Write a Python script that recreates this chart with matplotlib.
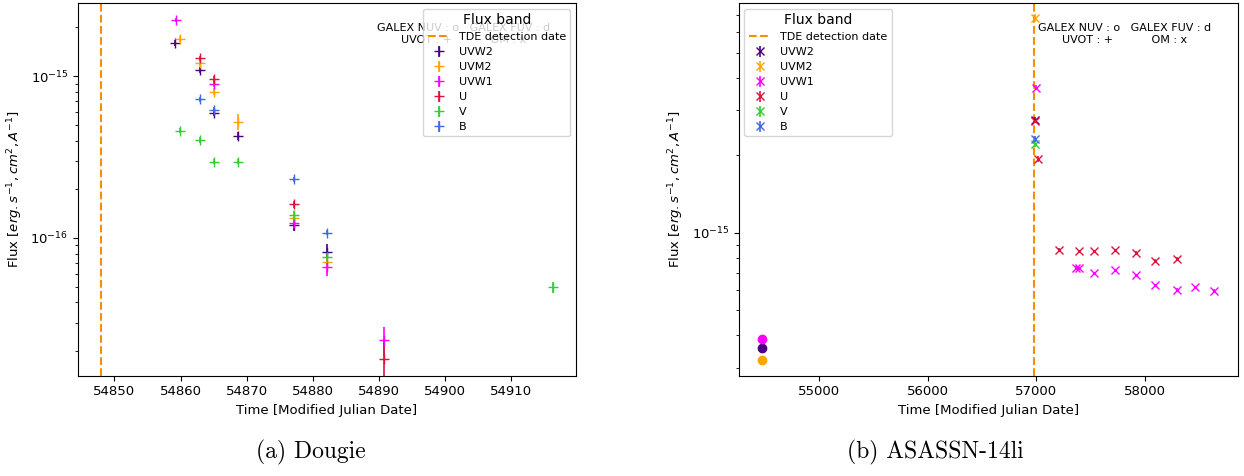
import pandas as pd
import matplotlib.pyplot as plt

# === Datos: Dougie (UVOT, marcador +) ===
dougie_band = ["UVW2", "UVM2", "UVW1", "V",
               "U", "UVM2", "UVW2", "B", "V",
               "U", "UVW1", "UVM2", "B", "UVW2", "V",
               "UVM2", "UVW2", "V",
               "B", "U", "V", "UVM2", "UVW1", "UVW2",
               "B", "UVW2", "V", "UVM2", "UVW1",
               "UVW1", "U",
               "V"]
dougie_mjd = [54859.2, 54859.85, 54859.35, 54859.85,
              54862.9, 54862.9, 54862.9, 54862.9, 54862.9,
              54865.1, 54865.1, 54865.1, 54865.1, 54865.1, 54865.1,
              54868.7, 54868.7, 54868.7,
              54877.1, 54877.1, 54877.1, 54877.1, 54877.1, 54877.1,
              54882.2, 54882.2, 54882.2, 54882.2, 54882.2,
              54890.7, 54890.7,
              54916.4]
dougie_flux = [1.60e-15, 1.69e-15, 2.21e-15, 4.61e-16,
               1.29e-15, 1.20e-15, 1.09e-15, 7.21e-16, 4.04e-16,
               9.58e-16, 8.96e-16, 8.03e-16, 6.19e-16, 5.96e-16, 2.96e-16,
               5.23e-16, 4.27e-16, 2.96e-16,
               2.31e-16, 1.62e-16, 1.39e-16, 1.33e-16, 1.23e-16, 1.20e-16,
               1.08e-16, 8.22e-17, 7.65e-17, 7.13e-17, 6.64e-17,
               2.34e-17, 1.80e-17,
               4.95e-17]
dougie_err = [0.06e-15, 0.07e-15, 0.06e-15, 0.15e-16,
              0.05e-15, 0.05e-15, 0.05e-15, 0.25e-16, 0.15e-16,
              0.04e-15, 0.4e-16, 0.4e-16, 0.25e-16, 0.3e-16, 0.1e-16,
              0.6e-16, 0.25e-16, 0.1e-16,
              0.08e-16, 0.08e-16, 0.08e-16, 0.08e-16, 0.08e-16, 0.1e-16,
              0.4e-17, 0.9e-17, 0.5e-17, 0.5e-17, 0.8e-17,
              0.47e-17, 0.57e-17,
              0.4e-17]

# === Datos: ASASSN-14li (GALEX NUV: o, OM: x) ===
asassn_band = ["UVW2", "UVM2", "UVW1",
               "UVM2", "UVW1", "UVW2", "U", "B", "V", "U",
               "U", "U", "U", "U", "U", "U", "U",
               "UVW1", "UVW1", "UVW1", "UVW1", "UVW1",
               "UVW1", "UVW1", "UVW1", "UVW1"]
asassn_marker = ["o", "o", "o",
                 "x", "x", "x", "x", "x", "x", "x",
                 "x", "x", "x", "x", "x", "x", "x",
                 "x", "x", "x", "x", "x", "x", "x", "x", "x"]
asassn_mjd = [54473, 54473, 54473,
              56990, 56995, 56990, 56990, 56990, 56990, 57020,
              57212, 57396, 57534, 57727, 57917, 58095, 58300,
              57365, 57396, 57534, 57727, 57917, 58095, 58300, 58460, 58638]
asassn_flux = [3.58e-16, 3.21e-16, 3.86e-16,
               6.81e-15, 3.66e-15, 2.75e-15, 2.72e-15, 2.32e-15, 2.21e-15, 1.94e-15,
               8.61e-16, 8.49e-16, 8.49e-16, 8.57e-16, 8.37e-16, 7.80e-16, 7.94e-16,
               7.33e-16, 7.29e-16, 6.97e-16, 7.15e-16, 6.84e-16, 6.25e-16,
               5.99e-16, 6.14e-16, 5.93e-16]
asassn_err = [0.05e-16, 0.05e-16, 0.15e-16,
              0.25e-15, 0.08e-15, 0.06e-15, 0.06e-15, 0.06e-15, 0.06e-15, 0.05e-15,
              0.1e-16, 0.1e-16, 0.1e-16, 0.1e-16, 0.1e-16, 0.1e-16, 0.1e-16,
              0.1e-16, 0.1e-16, 0.1e-16, 0.1e-16, 0.1e-16, 0.1e-16,
              0.1e-16, 0.1e-16, 0.1e-16]

bandas = ["UVW2", "UVM2", "UVW1", "U", "V", "B"]
colores = ["indigo", "orange", "magenta", "crimson", "limegreen", "royalblue"]

dougie_tde = 54848.0
asassn_tde = 56983.0

df_d = pd.DataFrame({"band": dougie_band, "mjd": dougie_mjd,
                     "flux": dougie_flux, "err": dougie_err})
df_a = pd.DataFrame({"band": asassn_band, "marker": asassn_marker, "mjd": asassn_mjd,
                     "flux": asassn_flux, "err": asassn_err})

texto_inst = "GALEX NUV : o   GALEX FUV : d\nUVOT : +           OM : x"
etiqueta_y = r"Flux [$erg.s^{-1},cm^{2},A^{-1}$]"

# === Crear la figura ===
fig = plt.figure(figsize=(12.44, 4.76), dpi=100)
ax1 = fig.add_axes([0.0627, 0.2107, 0.4003, 0.783])
ax2 = fig.add_axes([0.594, 0.2107, 0.401, 0.783])

# --- Panel (a) Dougie ---
ax1.axvline(dougie_tde, color="darkorange", linestyle="--", linewidth=1.5,
            label="TDE detection date")
for banda, color in zip(bandas, colores):
    sub = df_d[df_d["band"] == banda]
    ax1.errorbar(sub["mjd"], sub["flux"], yerr=sub["err"], fmt="+", color=color,
                 markersize=7, elinewidth=1.2, label=banda)
ax1.set_yscale("log")
ax1.set_xlim(54844.5, 54919.8)
ax1.set_ylim(1.41e-17, 2.83e-15)

# --- Panel (b) ASASSN-14li ---
ax2.axvline(asassn_tde, color="darkorange", linestyle="--", linewidth=1.5,
            label="TDE detection date")
for banda, color in zip(bandas, colores):
    sub = df_a[df_a["band"] == banda]
    for mk in ["x", "o"]:
        s = sub[sub["marker"] == mk]
        if len(s) == 0:
            continue
        ax2.errorbar(s["mjd"], s["flux"], yerr=s["err"], fmt=mk, color=color,
                     markersize=6, elinewidth=1.2,
                     label=banda if mk == "x" else None)
ax2.set_yscale("log")
ax2.set_xlim(54264, 58856)
ax2.set_ylim(2.79e-16, 7.8e-15)

for ax, loc in [(ax1, "upper right"), (ax2, "upper left")]:
    ax.text(0.6, 0.945, texto_inst, transform=ax.transAxes, ha="left", va="top",
            multialignment="center", fontsize=8)
    ax.set_xlabel("Time [Modified Julian Date]", fontsize=9.5)
    ax.set_ylabel(etiqueta_y, fontsize=9.5)
    ax.tick_params(labelsize=9.5)
    ax.legend(loc=loc, title="Flux band", fontsize=8, title_fontsize=10,
              labelspacing=0.45)

# === Subtítulos ===
fig.text(311 / 1244, 1 - 452 / 476, "(a) Dougie", ha="center", va="center",
         fontsize=17, family="cmr10")
fig.text(935 / 1244, 1 - 452 / 476, "(b) ASASSN-14li", ha="center", va="center",
         fontsize=17, family="cmr10")

# === Guardar ===
plt.savefig("out.png", dpi=100)
